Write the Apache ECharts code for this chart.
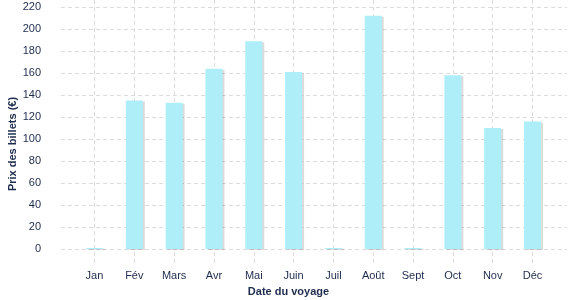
<!DOCTYPE html>
<html><head><meta charset="utf-8">
<script src="https://cdn.jsdelivr.net/npm/echarts@6/dist/echarts.min.js"></script>
<style>html,body{margin:0;padding:0;background:#fff}#c{width:577px;height:300px}</style>
</head><body><div id="c"></div>
<script>
const months = ['Jan','Fév','Mars','Avr','Mai','Juin','Juil','Août','Sept','Oct','Nov','Déc'];
const prices = [1, 135, 133, 164, 189, 161, 1, 212, 1, 158, 110, 116];
const yTicks = [0,20,40,60,80,100,120,140,160,180,200,220];
const xTitle = 'Date du voyage';
const yTitle = 'Prix des billets (€)';

const xIdx = months.map((m,i)=>i);
const textColor = '#1d2b4c';
const font = 'Liberation Sans, Arial, sans-serif';
const chart = echarts.init(document.getElementById('c'), null, {renderer:'canvas'});
chart.setOption({
  animation:false,
  grid:{left:61,right:10,top:0,bottom:35,containLabel:false},
  xAxis:{type:'value',min:-0.841,max:11.866,
    axisLine:{show:false},
    axisTick:{show:false,customValues:xIdx},
    axisLabel:{customValues:xIdx,formatter:v=>months[Math.round(v)],color:textColor,fontSize:11,fontFamily:font,margin:5},
    splitLine:{show:true,lineStyle:{color:'#dcdcdc',type:[4,3],width:1}}
  },
  yAxis:{type:'value',min:-14.5,max:226.4,
    axisLine:{show:false},
    axisTick:{show:false,customValues:yTicks},
    axisLabel:{customValues:yTicks,color:textColor,fontSize:11,fontFamily:font,margin:20},
    splitLine:{show:true,lineStyle:{color:'#dcdcdc',type:[4,3],width:1}}
  },
  graphic:[
    {type:'text',left:'center',x:0,style:{text:xTitle,font:'bold 11px '+font,fill:textColor,textAlign:'center',textVerticalAlign:'middle'},position:[255,292]},
    {type:'text',rotation:Math.PI/2,position:[13,144],style:{text:yTitle,font:'bold 11px '+font,fill:textColor,textAlign:'center',textVerticalAlign:'middle'}}
  ],
  series:[{type:'bar',barWidth:17,data:prices.map((v,i)=>[i,v]),
    itemStyle:{color:'#aeeef9',shadowColor:'rgba(0,0,0,0.14)',shadowOffsetX:2,shadowOffsetY:1,shadowBlur:0}}]
});
</script></body></html>
